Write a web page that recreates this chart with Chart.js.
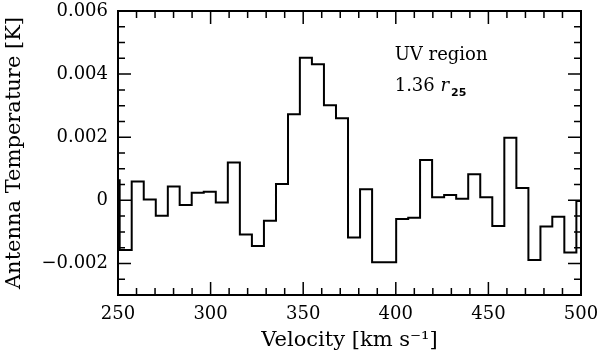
<!DOCTYPE html>
<html>
<head>
<meta charset="utf-8">
<script src="https://cdn.jsdelivr.net/npm/chart.js@4.4.0/dist/chart.umd.min.js"></script>
<style>
    body { margin: 0; background: #fff; }
    #wrap { width: 600px; height: 354px; }
</style>
</head>
<body>
<div id="wrap"><canvas id="spectrum" width="600" height="354"></canvas></div>
<script>
// channel left edges [km/s], last entry is the right edge of the last channel
const velocities = [
    244.4, 250.9, 257.4, 263.9, 270.4, 276.9, 283.3, 289.8, 296.3, 302.8,
    309.3, 315.8, 322.3, 328.8, 335.3, 341.8, 348.2, 354.7, 361.2, 367.7,
    374.2, 380.7, 387.2, 393.7, 400.2, 406.7, 413.1, 419.6, 426.1, 432.6,
    439.1, 445.6, 452.1, 458.6, 465.1, 471.6, 478.1, 484.5, 491.0, 497.5,
    504.0
];
// antenna temperature per channel [K]
const temperatures = [
    0.00064, -0.00157, 0.00060, 0.00003, -0.00049, 0.00044, -0.00015, 0.00024, 0.00027, -0.00007,
    0.00120, -0.00108, -0.00145, -0.00065, 0.00052, 0.00273, 0.00452, 0.00431, 0.00301, 0.00260,
    -0.00118, 0.00035, -0.00196, -0.00196, -0.00059, -0.00055, 0.00128, 0.00010, 0.00017, 0.00005,
    0.00083, 0.00010, -0.00081, 0.00198, 0.00039, -0.00189, -0.00083, -0.00052, -0.00165, -0.00002
];

const xTicks = [250, 300, 350, 400, 450, 500];
const yTicks = [-0.002, 0, 0.002, 0.004, 0.006];
const xMinorStep = 10;
const yMinorStep = 0.0005;

// step points: each channel value held until the next edge
const points = [{ x: velocities[0], y: temperatures[0] }];
for (let i = 1; i < velocities.length; i++) {
    points.push({ x: velocities[i], y: temperatures[i - 1] });
    if (i < temperatures.length) points.push({ x: velocities[i], y: temperatures[i] });
}

const serif = "'DejaVu Serif', serif";

function fmtY(v) {
    if (Math.abs(v) < 1e-9) return "0";
    return (v < 0 ? "\u2212" : "") + Math.abs(v).toFixed(3);
}

// frame + inward ticks on all four sides, plus the label
const framePlugin = {
    id: "frame",
    afterDraw(chart) {
        const ctx = chart.ctx;
        const a = chart.chartArea;
        const xs = chart.scales.x;
        const ys = chart.scales.y;
        ctx.save();
        ctx.strokeStyle = "#000";
        ctx.lineWidth = 2;
        ctx.strokeRect(a.left, a.top, a.right - a.left, a.bottom - a.top);

        ctx.lineWidth = 1.5;
        ctx.beginPath();
        for (let v = xs.min; v <= xs.max + 1e-6; v += xMinorStep) {
            const px = xs.getPixelForValue(v);
            const len = xTicks.includes(Math.round(v)) ? 13 : 7;
            ctx.moveTo(px, a.bottom); ctx.lineTo(px, a.bottom - len);
            ctx.moveTo(px, a.top); ctx.lineTo(px, a.top + len);
        }
        for (let i = 0; ys.min + i * yMinorStep <= ys.max + 1e-9; i++) {
            const v = ys.min + i * yMinorStep;
            const py = ys.getPixelForValue(v);
            const major = yTicks.some(t => Math.abs(t - v) < 1e-9);
            const len = major ? 13 : 7;
            ctx.moveTo(a.left, py); ctx.lineTo(a.left + len, py);
            ctx.moveTo(a.right, py); ctx.lineTo(a.right - len, py);
        }
        ctx.stroke();

        // annotation
        ctx.fillStyle = "#000";
        ctx.textBaseline = "alphabetic";
        ctx.textAlign = "left";
        const lx = xs.getPixelForValue(399.4);
        ctx.font = "18px " + serif;
        ctx.fillText("UV region", lx, ys.getPixelForValue(0.00444));
        const by = ys.getPixelForValue(0.00347);
        ctx.fillText("1.36", lx, by);
        let w = ctx.measureText("1.36 ").width;
        ctx.font = "italic 18px " + serif;
        ctx.fillText("r", lx + w, by);
        w += ctx.measureText("r").width + 2;
        ctx.font = "bold 11px 'DejaVu Sans', sans-serif";
        ctx.fillText("25", lx + w, by + 5);
        ctx.restore();
    }
};

new Chart(document.getElementById("spectrum"), {
    type: "line",
    data: {
        datasets: [
            {
                data: points,
                borderColor: "#000",
                borderWidth: 2,
                pointRadius: 0,
                fill: false,
            },
        ],
    },
    options: {
        responsive: false,
        animation: false,
        layout: { padding: { top: 11, right: 19, left: 0, bottom: 0 } },
        plugins: {
            legend: { display: false },
            tooltip: { enabled: false },
        },
        scales: {
            x: {
                type: "linear",
                min: 250,
                max: 500,
                grid: { display: false, drawTicks: false },
                border: { display: false },
                afterBuildTicks: (s) => { s.ticks = xTicks.map(v => ({ value: v })); },
                afterFit: (s) => { s.height = 59; s.paddingLeft = 0; s.paddingRight = 0; },
                ticks: {
                    color: "#000",
                    padding: 9,
                    maxRotation: 0,
                    font: { family: serif, size: 18 },
                },
                title: {
                    display: true,
                    text: "Velocity [km s\u207B\u00B9]",
                    color: "#000",
                    font: { family: serif, size: 21 },
                    padding: { top: 0, bottom: 1 },
                },
            },
            y: {
                min: -0.003,
                max: 0.006,
                grid: { display: false, drawTicks: false },
                border: { display: false },
                afterBuildTicks: (s) => { s.ticks = yTicks.map(v => ({ value: v })); },
                afterFit: (s) => { s.width = 118; s.paddingTop = 0; s.paddingBottom = 0; },
                ticks: {
                    color: "#000",
                    padding: 10,
                    font: { family: serif, size: 18 },
                    callback: (v) => fmtY(v),
                },
                title: {
                    display: true,
                    text: "Antenna Temperature [K]",
                    color: "#000",
                    font: { family: serif, size: 21 },
                    padding: { top: 2, bottom: 0 },
                },
            },
        },
    },
    plugins: [framePlugin],
});
</script>
</body>
</html>
